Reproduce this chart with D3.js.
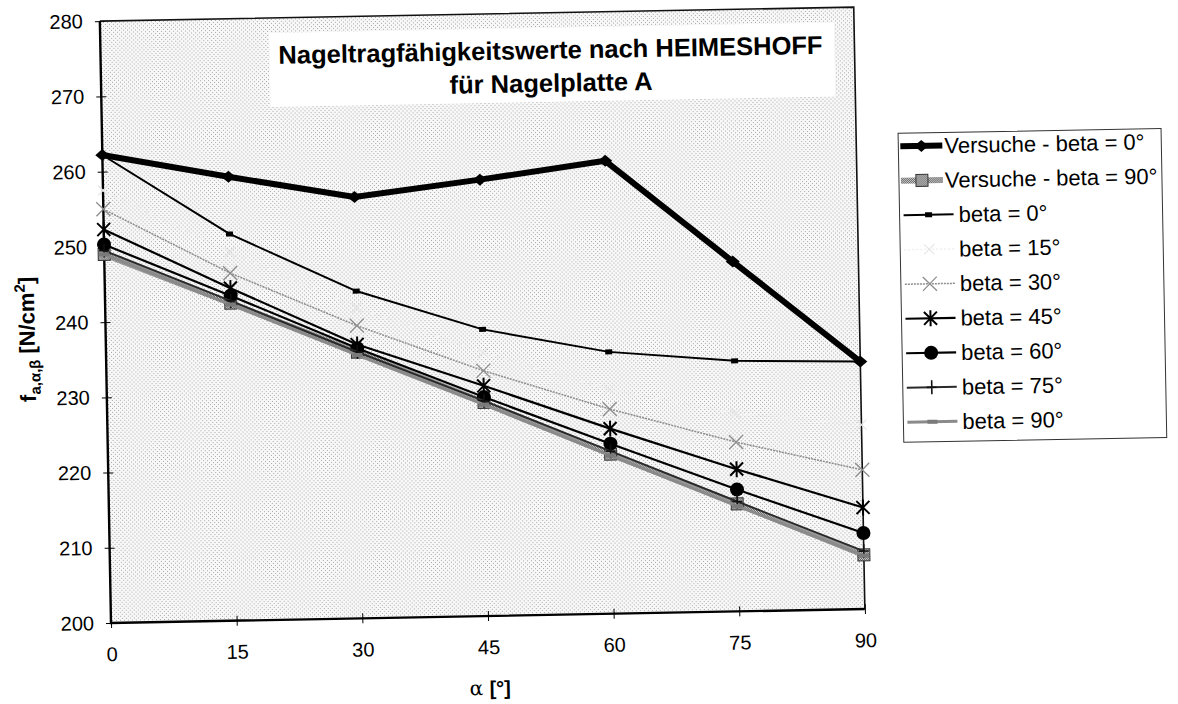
<!DOCTYPE html>
<html><head><meta charset="utf-8">
<script src="https://cdn.jsdelivr.net/npm/d3@7"></script>
<style>
html,body{margin:0;padding:0;background:#fff;}
svg{display:block;font-family:"Liberation Sans",Arial,sans-serif;}
</style></head>
<body>
<svg id="chart" width="1178" height="704"></svg>
<script>
// ---- data ----
const alpha = ["0","15","30","45","60","75","90"];
const yTicks = [200,210,220,230,240,250,260,270,280];
const versuche0  = [262.2, 259.0, 256.0, 258.0, 260.2, 246.5, 232.9];
const versuche90 = [249.0, 242.2, 235.4, 228.4, 221.2, 214.3, 207.2];
const beta0  = [262.2, 251.4, 243.5, 238.1, 234.8, 233.3, 232.9];
const beta15 = [257.5, 249.0, 241.3, 235.0, 229.8, 226.3, 224.5];
const beta30 = [255.0, 246.2, 238.9, 232.6, 227.2, 222.5, 218.5];
const beta45 = [252.3, 244.2, 236.4, 230.6, 224.6, 218.9, 213.5];
const beta60 = [250.3, 243.2, 235.9, 229.1, 222.6, 216.2, 210.1];
const beta75 = [249.5, 242.5, 235.4, 228.6, 221.6, 214.6, 207.7];
const beta90 = [249.0, 242.0, 235.0, 228.1, 221.0, 214.0, 207.1];
const seriesNames = ["Versuche - beta = 0°","Versuche - beta = 90°","beta = 0°","beta = 15°","beta = 30°","beta = 45°","beta = 60°","beta = 75°","beta = 90°"];
const titleLines = ["Nageltragfähigkeitswerte nach HEIMESHOFF","für Nagelplatte A"];

// ---- styles ----
const styles = [
  {stroke:"#000", w:6, marker:"diamond"},
  {stroke:"url(#checker)", w:6, marker:"square"},
  {stroke:"#000", w:2, marker:"smallsq"},
  {stroke:"#eeeeee", w:1.5, dash:"2 2", marker:"faint"},
  {stroke:"#8c8c8c", w:1.5, dash:"2 1", marker:"x"},
  {stroke:"#000", w:2.2, marker:"asterisk"},
  {stroke:"#000", w:2.2, marker:"circle"},
  {stroke:"#2a2a2a", w:2, marker:"plus"},
  {stroke:"#8a8a8a", w:3, marker:"dash"}
];
const allSeries = [versuche0, versuche90, beta0, beta15, beta30, beta45, beta60, beta75, beta90];

const svg = d3.select("#chart");
svg.append("rect").attr("width",1178).attr("height",704).attr("fill","#fff");
const defs = svg.append("defs");
const pat = defs.append("pattern").attr("id","stip").attr("width",4).attr("height",4).attr("patternUnits","userSpaceOnUse");
pat.append("rect").attr("width",4).attr("height",4).attr("fill","#f8f8f8");
[[0,0],[2,2]].forEach(p=>pat.append("rect").attr("x",p[0]).attr("y",p[1]).attr("width",1).attr("height",1).attr("fill","#a6a6a6"));
const chk = defs.append("pattern").attr("id","checker").attr("width",2).attr("height",2).attr("patternUnits","userSpaceOnUse");
chk.append("rect").attr("width",2).attr("height",2).attr("fill","#d8d8d8");
[[0,0],[1,1]].forEach(p=>chk.append("rect").attr("x",p[0]).attr("y",p[1]).attr("width",1).attr("height",1).attr("fill","#5a5a5a"));

const root = svg.append("g").attr("transform","rotate(-1.06,111,623)");

const x = d3.scalePoint().domain(alpha).range([111,865]);
const y = d3.scaleLinear().domain([200,280]).range([623,21]);

// plot area
root.append("rect").attr("x",x.range()[0]).attr("y",y(280))
  .attr("width",x.range()[1]-x.range()[0]).attr("height",y(200)-y(280))
  .attr("fill","url(#stip)");

// title box
root.append("rect").attr("x",280).attr("y",36).attr("width",565).attr("height",74).attr("fill","#fff");
root.selectAll("text.title").data(titleLines).join("text").attr("class","title")
  .attr("x",561).attr("y",(d,i)=>67+i*33).attr("text-anchor","middle")
  .attr("font-size",25.5).attr("font-weight","bold").attr("fill","#000").text(d=>d);

// axes
const yAxis = root.append("g").attr("transform",`translate(${x.range()[0]},0)`)
  .call(d3.axisLeft(y).tickValues(yTicks).tickSizeInner(5).tickSizeOuter(0).tickPadding(12));
yAxis.select(".domain").remove();
yAxis.selectAll(".tick line").attr("x1",5).attr("stroke","#000").attr("stroke-width",1);
yAxis.selectAll(".tick text").attr("font-size",20).attr("fill","#000").attr("font-family","Liberation Sans, Arial, sans-serif");

const xAxis = root.append("g").attr("transform",`translate(0,${y(200)})`)
  .call(d3.axisBottom(x).tickSizeInner(5).tickSizeOuter(0).tickPadding(19));
xAxis.select(".domain").remove();
xAxis.selectAll(".tick line").attr("y1",-5).attr("stroke","#000").attr("stroke-width",1);
xAxis.selectAll(".tick text").attr("font-size",20).attr("fill","#000").attr("font-family","Liberation Sans, Arial, sans-serif");

// frame
root.append("path").attr("d",`M${x.range()[0]},${y(280)}H${x.range()[1]}V${y(200)}`)
  .attr("fill","none").attr("stroke","#111").attr("stroke-width",1.6);
root.append("path").attr("d",`M${x.range()[0]},${y(280)}V${y(200)}H${x.range()[1]}`)
  .attr("fill","none").attr("stroke","#000").attr("stroke-width",2.4);

// markers
function marker(g, type, cx, cy){
  const s = g.append("g").attr("transform",`translate(${cx},${cy})`);
  switch(type){
    case "diamond": s.append("path").attr("d","M-7,0L0,-6L7,0L0,6Z").attr("fill","#000"); break;
    case "square": s.append("rect").attr("x",-6).attr("y",-6).attr("width",12).attr("height",12)
      .attr("fill","url(#checker)").attr("stroke","#333").attr("stroke-width",1); break;
    case "smallsq": s.append("rect").attr("x",-3.5).attr("y",-2.5).attr("width",7).attr("height",5).attr("fill","#000"); break;
    case "faint": s.append("path").attr("d","M-5,-5L5,5M-5,5L5,-5").attr("stroke","#e6e6e6").attr("stroke-width",1.2); break;
    case "x": s.append("path").attr("d","M-7,-7L7,7M-7,7L7,-7").attr("stroke","#8c8c8c").attr("stroke-width",1.3); break;
    case "asterisk": s.append("path").attr("d","M-6.5,-6.5L6.5,6.5M-6.5,6.5L6.5,-6.5M0,-8V8").attr("stroke","#000").attr("stroke-width",2); break;
    case "circle": s.append("circle").attr("r",7).attr("fill","#000"); break;
    case "plus": s.append("path").attr("d","M0,-7V7M-5,0H5").attr("stroke","#111").attr("stroke-width",1.6); break;
    case "dash": s.append("rect").attr("x",-5).attr("y",-2).attr("width",10).attr("height",4).attr("fill","#7a7a7a"); break;
  }
}

const line = d3.line().x((d,i)=>x(alpha[i])).y(d=>y(d));
const plot = root.append("g");
allSeries.forEach((vals,k)=>{
  const st = styles[k];
  const g = plot.append("g");
  g.append("path").datum(vals).attr("d",line).attr("fill","none")
    .attr("stroke",st.stroke).attr("stroke-width",st.w)
    .attr("stroke-dasharray",st.dash||null).attr("stroke-linejoin","round");
  vals.forEach((v,i)=>marker(g, st.marker, x(alpha[i]), y(v)));
});

// legend
const leg = root.append("g");
leg.append("rect").attr("x",907).attr("y",148).attr("width",263).attr("height",309)
  .attr("fill","#fff").attr("stroke","#333").attr("stroke-width",1);
seriesNames.forEach((name,k)=>{
  const st = styles[k];
  const cy = 161 + k*34.5;
  const isV = k<2;
  const x0 = isV?909:911, x1 = isV?951:961;
  leg.append("line").attr("x1",x0).attr("x2",x1).attr("y1",cy).attr("y2",cy)
    .attr("stroke",st.stroke).attr("stroke-width",st.w).attr("stroke-dasharray",st.dash||null);
  marker(leg, st.marker, (x0+x1)/2, cy);
  leg.append("text").attr("x",isV?953:966).attr("y",cy).attr("dy","0.35em")
    .attr("font-size",22).attr("fill","#000").text(name);
});

// axis titles
const yl = root.append("text").attr("transform","translate(40,338) rotate(-90)")
  .attr("text-anchor","middle").attr("font-size",22).attr("font-weight","bold").attr("fill","#000");
yl.append("tspan").text("f");
yl.append("tspan").attr("font-size",15).attr("dy",5).text("a,α,β");
yl.append("tspan").attr("dy",-5).text(" [N/cm");
yl.append("tspan").attr("font-size",15).attr("dy",-9).text("2");
yl.append("tspan").attr("dy",9).text("]");

const xl = root.append("text").attr("x",489).attr("y",702).attr("text-anchor","middle").attr("font-size",20).attr("fill","#000");
xl.append("tspan").attr("font-family","DejaVu Serif, serif").text("α ");
xl.append("tspan").attr("font-weight","bold").text("[°]");
</script>
</body></html>
